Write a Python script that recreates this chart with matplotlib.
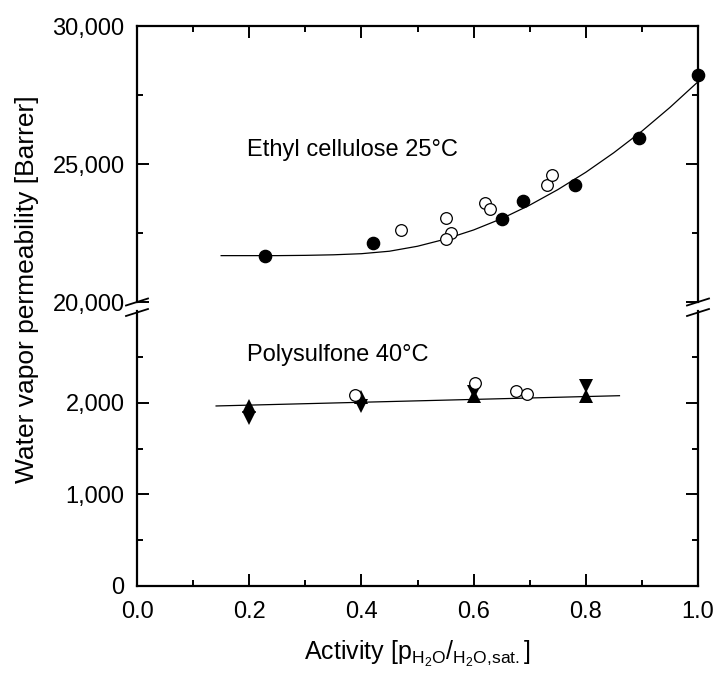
import matplotlib
matplotlib.use("Agg")
import matplotlib.pyplot as plt
from matplotlib.ticker import MultipleLocator, FuncFormatter, FixedLocator
from matplotlib.lines import Line2D

plt.rcParams['font.family'] = ['Liberation Sans', 'DejaVu Sans']
plt.rcParams['mathtext.fontset'] = 'custom'
plt.rcParams['mathtext.rm'] = 'Liberation Sans'
plt.rcParams['mathtext.it'] = 'Liberation Sans'

# ---- Data: Ethyl cellulose 25°C ----
ec_filled_x = [0.228, 0.421, 0.650, 0.6875, 0.781, 0.894, 1.0]
ec_filled_y = [21670, 22130, 23010, 23650, 24240, 25950, 28240]
ec_open_x = [0.470, 0.550, 0.560, 0.551, 0.620, 0.630, 0.730, 0.740]
ec_open_y = [22610, 23060, 22490, 22270, 23580, 23360, 24230, 24610]
ec_fit_x = [0.15, 0.20, 0.25, 0.30, 0.35, 0.40, 0.45, 0.50, 0.55, 0.60,
            0.65, 0.70, 0.75, 0.80, 0.85, 0.90, 0.95, 1.00]
ec_fit_y = [21680, 21680, 21680, 21690, 21710, 21750, 21840, 22020, 22280, 22610,
            23020, 23510, 24070, 24700, 25410, 26190, 27050, 27980]

# ---- Data: Polysulfone 40°C ----
psf_up_x = [0.2, 0.4, 0.6, 0.8]
psf_up_y = [1968, 2064, 2072, 2072]
psf_down_x = [0.2, 0.4, 0.6, 0.8]
psf_down_y = [1833, 1963, 2114, 2187]
psf_open_x = [0.389, 0.6025, 0.675, 0.696]
psf_open_y = [2084, 2211, 2130, 2095]
psf_fit_x = [0.141, 0.860]
psf_fit_y = [1964, 2076]

x_ticks = [0.0, 0.2, 0.4, 0.6, 0.8, 1.0]
top_ticks = [20000, 25000, 30000]
bot_ticks = [0, 1000, 2000]

W, H = 717, 675
fig = plt.figure(figsize=(W / 100, H / 100), dpi=100)

L, R = 137, 698
top_t, top_b = 26, 302
bot_t, bot_b = 311, 586
ax_top = fig.add_axes([L / W, 1 - top_b / H, (R - L) / W, (top_b - top_t) / H])
ax_bot = fig.add_axes([L / W, 1 - bot_b / H, (R - L) / W, (bot_b - bot_t) / H])

fmt = FuncFormatter(lambda v, p: f"{v:,.0f}")
lw_sp = 1.6
for ax in (ax_top, ax_bot):
    ax.set_xlim(0, 1.0)
    ax.xaxis.set_major_locator(FixedLocator(x_ticks))
    ax.xaxis.set_minor_locator(MultipleLocator(0.1))
    ax.tick_params(which='both', direction='in', top=True, right=True,
                   width=1.4, labelsize=17, pad=9)
    ax.tick_params(which='major', length=8.5)
    ax.tick_params(which='minor', length=4.5)
    for s in ax.spines.values():
        s.set_linewidth(lw_sp)

ax_top.set_ylim(20000, 30000)
ax_top.yaxis.set_major_locator(FixedLocator(top_ticks))
ax_top.yaxis.set_minor_locator(MultipleLocator(2500))
ax_top.yaxis.set_major_formatter(fmt)
ax_top.spines['bottom'].set_visible(False)
ax_top.tick_params(which='both', bottom=False, labelbottom=False)

ax_bot.set_ylim(0, 3000)
ax_bot.yaxis.set_major_locator(FixedLocator(bot_ticks))
ax_bot.yaxis.set_minor_locator(FixedLocator([500, 1500, 2500]))
ax_bot.yaxis.set_major_formatter(fmt)
ax_bot.spines['top'].set_visible(False)
ax_bot.tick_params(which='both', top=False)
ax_bot.xaxis.set_major_formatter(FuncFormatter(lambda v, p: f"{v:.1f}"))
ax_bot.tick_params(axis='x', pad=11)

# Ethyl cellulose
ax_top.plot(ec_fit_x, ec_fit_y, color='black', lw=0.9, zorder=2, clip_on=False)
ax_top.plot(ec_filled_x, ec_filled_y, 'o', color='black', ms=8.8, zorder=4, clip_on=False)
ax_top.plot(ec_open_x, ec_open_y, 'o', mfc='white', mec='black', mew=0.9, ms=8.4, zorder=3)
ax_top.text(0.196, 25290, 'Ethyl cellulose 25°C', fontsize=17, va='baseline', ha='left')

# Polysulfone
ax_bot.plot(psf_fit_x, psf_fit_y, color='black', lw=0.9, zorder=2)
ax_bot.plot(psf_up_x, psf_up_y, '^', color='black', ms=10.5, mew=0, zorder=3)
ax_bot.plot(psf_down_x, psf_down_y, 'v', color='black', ms=10.5, mew=0, zorder=3)
ax_bot.plot(psf_open_x, psf_open_y, 'o', mfc='white', mec='black', mew=0.9, ms=8.4, zorder=4)
ax_bot.text(0.196, 2454, 'Polysulfone 40°C', fontsize=17, va='baseline', ha='left')

# axis break marks
for xp in (L, R):
    for yc in (302, 312.5):
        fig.add_artist(Line2D([(xp - 11) / W, (xp + 11) / W],
                              [1 - (yc + 3.5) / H, 1 - (yc - 3.5) / H],
                              color='black', lw=1.3))

fig.text(15 / W, 1 - 289 / H, 'Water vapor permeability [Barrer]', rotation=90,
         fontsize=19, ha='left', va='center')
fig.text(417 / W, 1 - 660 / H, r'Activity [$\mathrm{p_{H_2O}/_{H_2O{,}sat.}}$]',
         fontsize=18, ha='center', va='baseline')

fig.savefig('out.png', dpi=100)
